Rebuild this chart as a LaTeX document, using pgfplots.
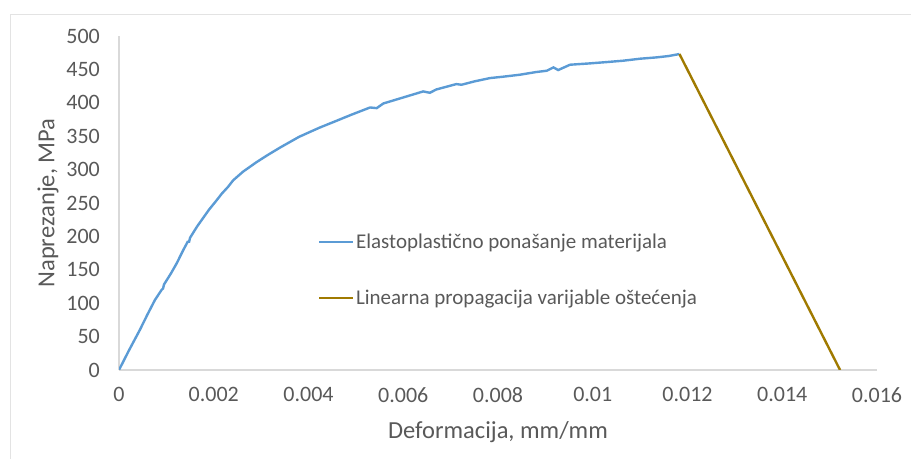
\documentclass[border=0pt]{standalone}
\usepackage{pgfplots}
\pgfplotsset{compat=1.18}
\usepackage{fontspec}
\setmainfont{Carlito}
\definecolor{txt}{HTML}{595959}
\definecolor{axl}{HTML}{D9D9D9}
\definecolor{frm}{HTML}{E3E3E3}
\definecolor{blueline}{HTML}{5B9BD5}
\definecolor{goldline}{HTML}{A07A00}
\begin{document}
\begin{tikzpicture}
\useasboundingbox (0,0) rectangle (911bp,459bp);
\draw[frm, line width=0.8bp] (10bp,0bp) -- (10bp,445bp) -- (911bp,445bp);
\begin{axis}[
  at={(119bp,89bp)}, anchor=south west,
  scale only axis, width=758bp, height=334bp,
  xmin=0, xmax=0.016, ymin=0, ymax=500,
  xtick={0,0.002,...,0.016}, ytick={0,50,...,500},
  scaled x ticks=false,
  xticklabel style={/pgf/number format/fixed, /pgf/number format/precision=3},
  /pgf/number format/assume math mode=true,
  axis x line*=bottom, axis y line*=left,
  axis line style={axl, line width=1.2bp},
  major tick length=0pt,
  every tick label/.append style={font=\fontsize{22bp}{26bp}\selectfont, text=txt, inner sep=0pt},
  yticklabel style={anchor=east, xshift=-19bp},
  xticklabel style={anchor=north, yshift=-17bp},
  xlabel={Deformacija, mm/mm},
  ylabel={Naprezanje, MPa},
  label style={font=\fontsize{24.5bp}{28bp}\selectfont, text=txt},
  xlabel style={at={(axis description cs:0.5,-0.1856)}, anchor=center},
  ylabel style={at={(axis description cs:-0.0937,0.5)}, anchor=center},
  legend style={draw=none, fill=none, at={(axis description cs:0.2625,0.299)}, anchor=west,
    font=\fontsize{21bp}{25bp}\selectfont, text=txt, row sep=37bp, inner sep=0pt,
    nodes={inner sep=1.5bp}},
  legend cell align=left,
  legend image code/.code={\draw[#1] (0bp,0bp) -- (34bp,0bp);},
]
\addplot[blueline, line width=2.4bp] coordinates {
(0,0) (0.0002,28) (0.00044,60) (0.0006,83) (0.00076,105) (0.0009,120) (0.00093,122)
(0.00095,128) (0.0011,145) (0.00122,160) (0.00136,180) (0.00145,192) (0.00148,192)
(0.0015,198) (0.00165,215) (0.00178,228) (0.0019,240) (0.00206,254) (0.00217,264)
(0.0023,274) (0.00241,284) (0.00262,297) (0.0029,311) (0.00312,321) (0.0034,333)
(0.0036,341) (0.0038,349) (0.00405,357) (0.00424,363) (0.00452,371) (0.0049,382)
(0.0053,393) (0.00544,392) (0.00558,399) (0.006,408) (0.00642,417) (0.00656,415)
(0.0067,420) (0.00712,428) (0.00723,427) (0.0075,432) (0.00783,437) (0.0081,439)
(0.00846,442) (0.0088,446) (0.00903,448) (0.00917,453) (0.00927,449) (0.00952,457)
(0.00994,459) (0.0103,461) (0.01064,463) (0.011,466) (0.01135,468) (0.0116,470)
(0.01183,473)
};
\addlegendentry{Elastoplastično ponašanje materijala}
\addplot[goldline, line width=2.4bp] coordinates {(0.01183,473) (0.01522,0)};
\addlegendentry{Linearna propagacija varijable oštećenja}
\end{axis}
\end{tikzpicture}
\end{document}
